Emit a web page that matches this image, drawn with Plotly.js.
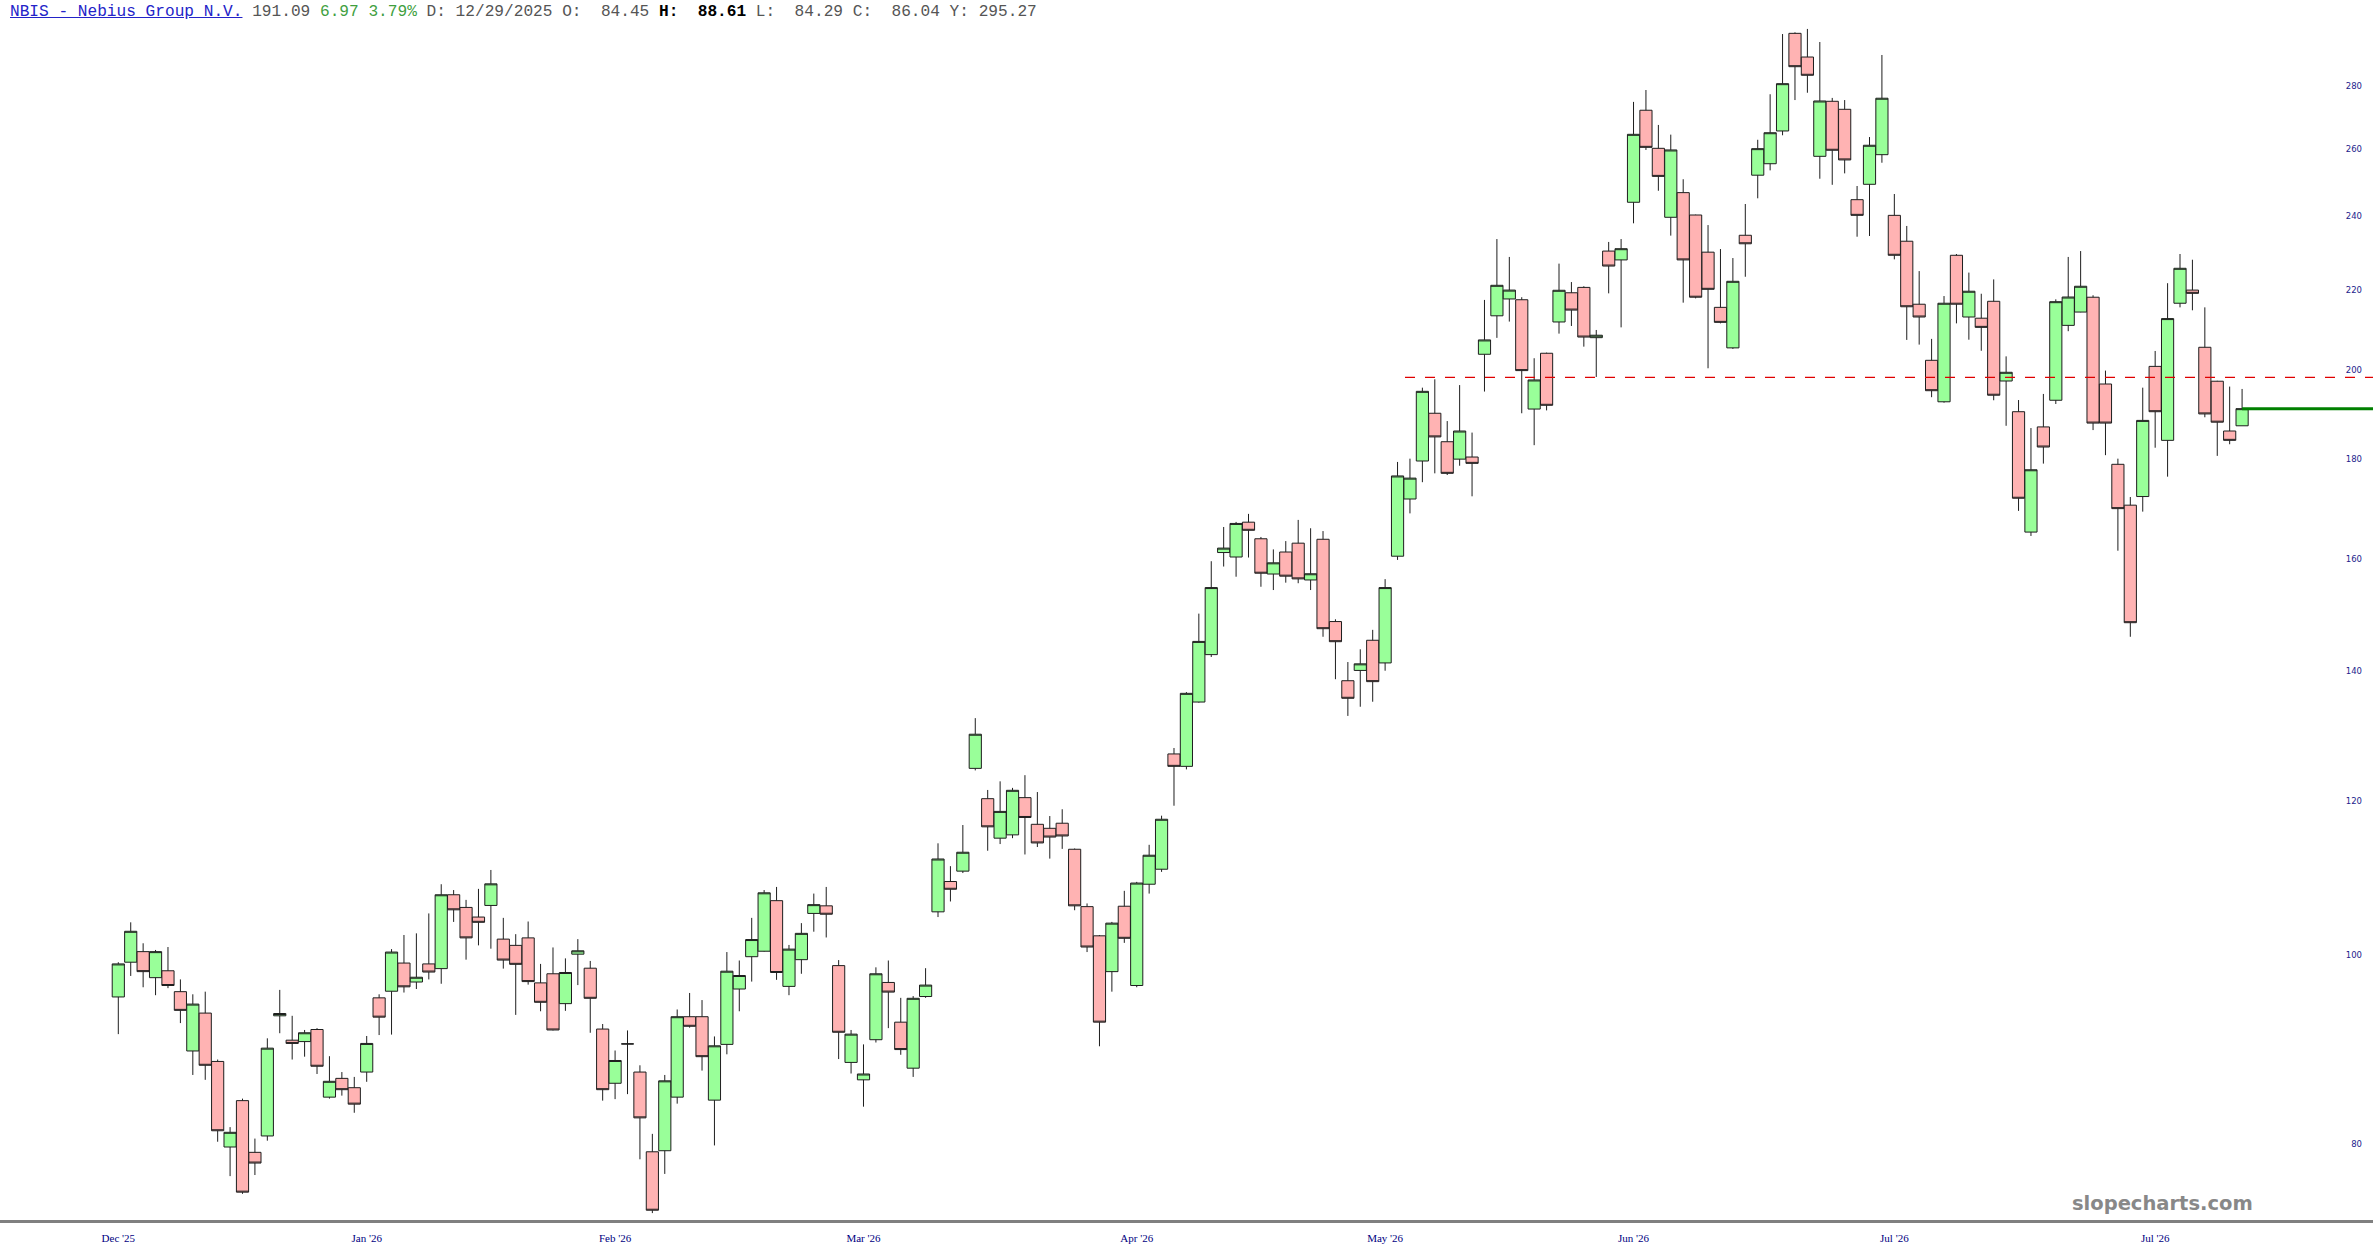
<!DOCTYPE html>
<html>
<head>
<meta charset="utf-8">
<script src="https://cdn.plot.ly/plotly-3.0.1.min.js"></script>
<style>
html,body{margin:0;padding:0;background:#ffffff;overflow:hidden;}
#chart{position:absolute;left:0;top:0;width:2373px;height:1260px;}
#hdr{position:absolute;left:10px;top:3px;z-index:10;font-family:"Liberation Mono","DejaVu Sans Mono",monospace;font-size:16.15px;line-height:18px;white-space:pre;color:#555555;}
#hdr .lnk{color:#2323c8;text-decoration:underline;}
#hdr .g{color:#3f9f3f;}
#hdr b{color:#000000;}
</style>
</head>
<body>
<div id="chart"></div>
<div id="hdr"><span class="lnk">NBIS - Nebius Group N.V.</span> 191.09 <span class="g">6.97 3.79%</span> D: 12/29/2025 O:  84.45 <b>H:  88.61</b> L:  84.29 C:  86.04 Y: 295.27</div>
<script>
// ---- data (daily OHLC) ----
const opens = [
95.2,99.2,100.45,97.4,98.2,95.8,89.3,93.4,88.2,79.7,
84.2,79.2,80.75,93.1,90.45,90.3,91.6,84.55,86.45,85.5,
87.1,95.1,95.85,99.1,96.9,99.0,98.45,107.45,105.85,104.65,
106.1,101.95,101.2,102.1,96.8,97.85,94.45,100.15,98.5,91.65,
85.95,90.05,87.1,79.25,79.35,84.55,93.0,93.0,84.25,90.0,
96.1,99.85,100.5,106.7,96.4,99.5,105.1,106.05,98.8,88.1,
86.3,90.5,96.85,92.4,87.5,95.25,105.3,109.15,110.5,124.8,
120.4,114.9,115.35,120.55,116.8,116.25,116.95,113.4,105.95,102.35,
98.1,106.0,96.5,108.8,110.75,126.95,125.1,135.0,142.8,161.15,
160.3,167.05,163.8,157.1,161.25,162.95,156.0,163.7,148.5,138.45,
140.15,145.25,141.4,160.45,171.7,179.6,190.05,183.75,180.0,180.45,
203.8,213.3,217.6,217.4,191.0,204.05,211.75,219.2,220.6,207.85,
230.3,227.9,244.0,272.1,260.1,239.7,246.8,240.35,230.0,215.45,
205.35,234.65,251.95,255.4,265.5,298.05,289.8,257.65,275.0,272.4,
244.75,249.25,258.15,240.25,233.0,216.25,202.35,192.65,229.15,213.0,
212.7,217.0,197.45,190.4,165.1,187.0,193.0,210.9,214.25,218.05,
196.75,178.9,170.45,172.2,200.9,184.05,216.5,219.9,205.5,197.4,
186.1,187.25];
const highs = [
99.2,104.0,101.45,100.65,101.0,97.2,95.5,95.8,88.4,81.6,
84.4,80.5,90.65,96.0,93.1,91.55,91.75,88.75,87.1,86.6,
90.9,95.5,100.75,102.45,102.65,105.1,108.8,108.05,106.8,108.2,
110.65,104.55,102.55,104.1,99.0,100.95,99.65,101.95,99.35,92.2,
89.35,91.5,87.8,80.95,86.8,93.8,95.65,94.85,90.85,100.4,
99.4,104.55,108.05,108.45,101.25,103.9,107.6,108.45,99.45,91.55,
90.0,98.6,99.4,95.1,95.3,98.5,114.2,111.15,116.7,132.45,
121.65,122.9,121.95,123.8,121.35,117.95,118.9,113.5,106.35,102.45,
104.05,107.95,109.1,114.0,118.0,127.85,136.6,149.9,159.5,166.1,
167.1,168.7,164.15,161.75,163.35,167.5,165.85,165.3,148.9,141.55,
143.7,147.05,156.15,179.4,180.1,195.9,197.85,188.3,196.5,185.75,
217.35,233.6,228.7,218.05,202.85,204.2,226.9,222.0,220.9,209.75,
232.8,233.6,274.8,278.7,267.4,264.35,250.75,240.45,237.5,230.85,
228.4,243.5,262.75,277.3,297.8,298.4,299.6,295.0,276.1,275.4,
248.75,263.6,290.5,246.4,237.25,224.9,207.55,218.35,229.5,224.5,
218.95,222.7,203.3,193.05,186.75,194.45,217.5,228.7,230.3,218.55,
199.9,180.1,172.1,195.9,204.6,221.7,229.5,227.95,215.45,197.5,
196.15,195.6];
const lows = [
91.1,97.6,96.3,95.4,96.2,92.3,86.8,86.3,80.2,77.0,
75.4,77.1,80.3,91.2,88.4,88.7,86.9,84.4,84.7,83.0,
86.1,91.0,91.05,95.7,96.1,97.2,96.7,104.05,99.5,101.2,
100.8,98.45,93.2,96.6,93.6,91.5,93.65,96.55,91.25,84.2,
84.35,84.85,78.55,73.7,77.2,83.9,91.8,87.25,79.85,88.95,
93.6,96.95,100.45,97.15,95.4,97.85,102.85,102.15,88.45,86.95,
83.6,90.2,91.75,88.9,86.6,95.1,104.65,106.6,110.25,124.5,
113.2,114.1,114.9,112.7,113.7,112.15,113.45,105.5,100.4,89.8,
95.8,101.5,96.3,107.6,110.4,119.4,124.65,134.9,142.4,158.5,
156.6,160.2,154.75,154.15,155.5,155.4,154.15,145.85,138.7,132.8,
134.25,135.05,140.1,159.75,168.8,175.15,177.0,176.65,178.6,172.25,
195.0,207.8,211.85,190.05,183.0,190.7,208.85,210.75,205.65,198.4,
219.05,210.4,238.0,259.6,247.35,234.55,216.65,217.75,200.45,211.4,
205.1,223.4,245.15,253.4,264.15,275.4,277.8,250.9,249.1,252.5,
234.25,234.45,255.7,228.05,207.3,206.15,193.7,192.45,211.4,207.35,
204.65,193.0,187.25,169.3,164.35,179.05,192.15,209.45,214.2,186.3,
180.85,161.5,145.85,169.15,182.45,176.3,215.45,214.7,189.15,180.7,
183.2,187.25];
const closes = [
99.0,102.9,98.1,100.45,96.5,93.7,94.4,87.8,81.25,81.1,
75.55,78.2,89.6,93.35,90.1,91.25,87.7,86.15,85.3,83.85,
90.1,92.95,100.4,96.35,97.45,98.05,107.45,105.55,102.1,104.0,
108.85,99.45,98.95,96.95,94.6,91.55,98.0,100.55,95.05,85.3,
88.3,90.05,82.5,73.95,86.2,93.0,91.95,88.7,89.85,98.15,
97.65,101.9,107.7,98.0,100.75,102.65,106.2,105.0,91.3,91.1,
86.9,97.85,95.75,89.45,95.05,96.55,112.1,108.15,113.0,129.95,
116.45,118.6,121.6,117.75,114.25,115.05,115.2,106.05,101.0,92.4,
103.9,102.05,108.95,112.6,117.5,125.1,136.4,145.05,154.6,162.0,
166.8,165.45,157.25,159.2,156.7,156.2,157.15,147.25,145.0,135.6,
141.25,138.3,154.6,176.45,176.0,195.05,184.8,177.0,186.1,179.1,
207.3,221.15,219.9,199.9,197.7,191.85,219.85,214.75,208.0,208.45,
226.25,230.95,264.45,260.4,251.6,259.6,227.9,218.05,220.1,211.65,
222.2,232.3,260.0,264.95,280.8,286.5,283.6,275.1,259.5,256.55,
240.25,261.05,276.0,229.15,215.6,213.0,195.2,216.5,216.25,219.6,
210.4,194.15,199.5,171.85,177.75,182.6,216.9,218.1,220.9,187.85,
187.85,169.75,148.3,188.45,190.4,212.6,225.65,219.05,189.9,188.05,
184.05,191.09];
const tickIdx = [1,21,41,61,83,103,123,144,165];
const tickLabels = ["Dec '25","Jan '26","Feb '26","Mar '26","Apr '26","May '26","Jun '26","Jul '26","Jul '26"];
const yTicks = [80,100,120,140,160,180,200,220,240,260,280];
const refLevel = 198.3;
const refStart = 104.6;

const idx = closes.map((_, i) => i + 1);
const lastClose = closes[closes.length - 1];

const traces = [
  {
    type: 'candlestick',
    x: idx, open: opens, high: highs, low: lows, close: closes,
    increasing: {fillcolor: '#99ff99', line: {color: '#1e1e1e', width: 1}},
    decreasing: {fillcolor: '#ffb3b3', line: {color: '#1e1e1e', width: 1}},
    whiskerwidth: 0,
    hoverinfo: 'skip',
    showlegend: false
  },
  {
    type: 'scatter', mode: 'lines',
    x: [refStart, 190], y: [refLevel, refLevel],
    line: {color: '#e00000', width: 1.2, dash: '10px,10px'},
    hoverinfo: 'skip', showlegend: false
  },
  {
    type: 'scatter', mode: 'lines',
    x: [idx[idx.length - 1], 190], y: [lastClose, lastClose],
    line: {color: '#008000', width: 3},
    hoverinfo: 'skip', showlegend: false
  }
];

const layout = {
  width: 2373, height: 1260,
  margin: {l: 0, r: 0, t: 0, b: 40, pad: 0},
  paper_bgcolor: '#ffffff', plot_bgcolor: '#ffffff',
  showlegend: false,
  boxgap: 0.02,
  boxgroupgap: 0,
  xaxis: {
    type: 'linear', range: [-8.525, 182.54],
    showgrid: false, zeroline: false,
    showline: true, linecolor: '#808080', linewidth: 2.5,
    tickmode: 'array', tickvals: tickIdx, ticktext: tickLabels,
    ticks: '', ticklabelstandoff: 6,
    tickfont: {family: 'Liberation Serif, serif', size: 11, color: '#00007f'},
    rangeslider: {visible: false}, fixedrange: true
  },
  yaxis: {
    type: 'log', range: [Math.log10(73.10), Math.log10(310.05)],
    side: 'right', showgrid: false, zeroline: false, showline: false,
    tickmode: 'array', tickvals: yTicks, ticktext: yTicks.map(String),
    ticks: '', ticklabelposition: 'inside', ticklabelstandoff: 8,
    tickfont: {family: 'DejaVu Sans, sans-serif', size: 8.5, color: '#1c1c8c'},
    fixedrange: true
  },
  annotations: [{
    xref: 'paper', yref: 'paper', x: 0.9111, y: 0.0135,
    xanchor: 'center', yanchor: 'middle', showarrow: false,
    text: '<b>slopecharts.com</b>',
    font: {family: 'DejaVu Sans, sans-serif', size: 19.5, color: '#888888'}
  }]
};

Plotly.newPlot('chart', traces, layout, {staticPlot: true, displayModeBar: false});
</script>
</body>
</html>
